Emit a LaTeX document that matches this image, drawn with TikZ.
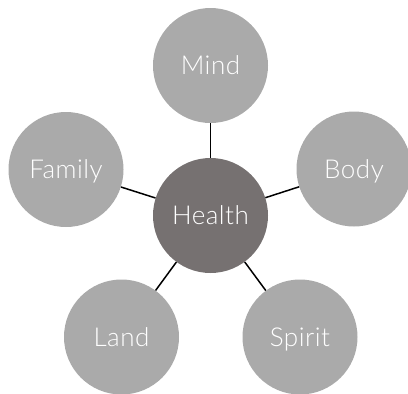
\documentclass[tikz,border=0pt]{standalone}
\usepackage{fontspec}
\IfFontExistsTF{Lato Light}{\setmainfont{Lato Light}[LetterSpace=2]}{\setmainfont{Carlito}}
\definecolor{outergray}{HTML}{AAAAAA}
\definecolor{innergray}{HTML}{767171}
\begin{document}
\begin{tikzpicture}[x=1pt,y=-1pt,
  bubble/.style={circle, fill=outergray, minimum size=115pt, inner sep=0pt,
    text=white, font=\fontsize{26}{30}\selectfont, text height=18.5pt, text depth=0pt},
  hub/.style={bubble, fill=innergray},
  link/.style={line width=1.5pt, black}]
\useasboundingbox (0,0) rectangle (408,394);
\node[hub] (h) at (210.5,215.5) {Health};
\node[bubble] (mind) at (210.5,65.5) {Mind};
\node[bubble] (body) at (354,169) {Body};
\node[bubble] (spirit) at (300,337) {Spirit};
\node[bubble] (land) at (121.5,337) {Land};
\node[bubble] (family) at (66,169.5) {Family};
\draw[link] (h) -- (mind);
\draw[link] (h) -- (body);
\draw[link] (h) -- (spirit);
\draw[link] (h) -- (land);
\draw[link] (h) -- (family);
\end{tikzpicture}
\end{document}
